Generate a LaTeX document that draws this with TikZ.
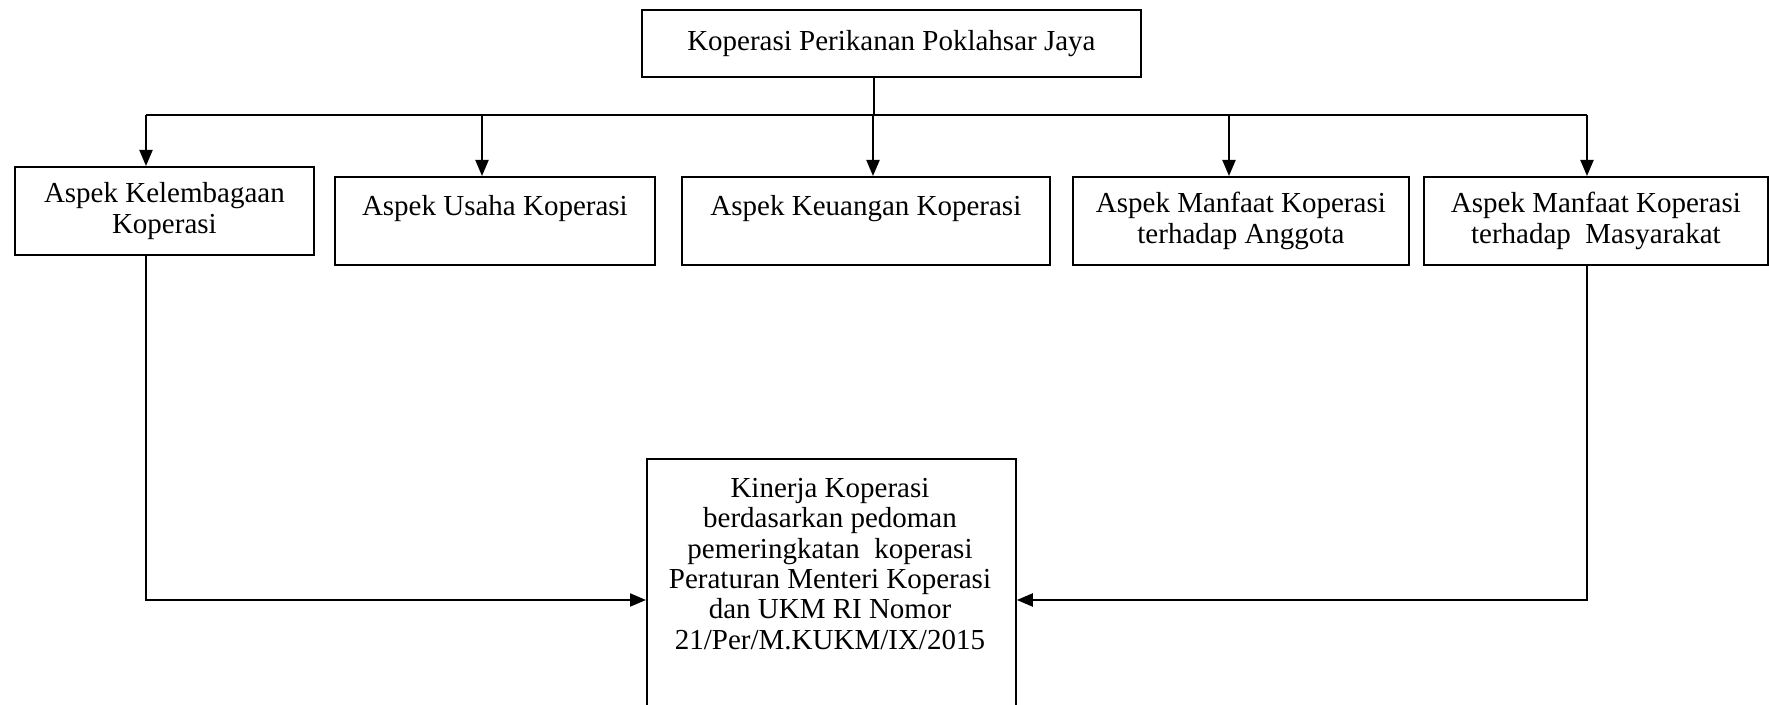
\documentclass[tikz,border=0pt]{standalone}
\usepackage{fontspec}
\setmainfont{Liberation Serif}
\usetikzlibrary{arrows.meta}
\begin{document}
\begin{tikzpicture}[x=0.5pt,y=-0.5pt,
  box/.style={draw=black,line width=0.9pt,rectangle,inner sep=0pt,align=center,
    font=\fontsize{14.5}{15.2}\selectfont},
  txt/.style={inner sep=0pt,align=center,font=\fontsize{14.5}{15.2}\selectfont},
  conn/.style={draw=black,line width=1pt},
  arr/.style={conn,-{Triangle[length=8pt,width=6.5pt]}}]
\clip (0,0) rectangle (1769,705);
\fill[white] (0,0) rectangle (1769,705);
% top box
\node[box,anchor=north west,minimum width=249.5pt,minimum height=33.5pt] (top) at (641,9) {Koperasi Perikanan Poklahsar Jaya};
% aspect boxes
\node[box,anchor=north west,minimum width=149.5pt,minimum height=44pt] (b1) at (14,166) {Aspek Kelembagaan\\Koperasi};
\node[box,anchor=north west,minimum width=160pt,minimum height=44pt] (b2) at (334,176) {Aspek Usaha Koperasi\\\mbox{}};
\node[box,anchor=north west,minimum width=184pt,minimum height=44pt] (b3) at (681,176) {Aspek Keuangan Koperasi\\\mbox{}};
\node[box,anchor=north west,minimum width=168pt,minimum height=44pt] (b4) at (1072,176) {Aspek Manfaat Koperasi\\terhadap Anggota};
\node[box,anchor=north west,minimum width=172pt,minimum height=44pt] (b5) at (1423,176) {Aspek Manfaat Koperasi\\terhadap\ \ Masyarakat};
% bottom box
\node[box,anchor=north west,minimum width=184.5pt,minimum height=142pt] (bot) at (646,458) {};
\node[txt] (bottxt) at (830,564) {Kinerja Koperasi\\berdasarkan pedoman\\pemeringkatan\ \ koperasi\\Peraturan Menteri Koperasi\\dan UKM RI Nomor\\21/Per/M.KUKM/IX/2015};
% tree coordinates
\coordinate (hub) at (874,115);
\coordinate (a1) at (146,115);
\coordinate (a2) at (482,115);
\coordinate (a3) at (873,115);
\coordinate (a4) at (1229,115);
\coordinate (a5) at (1587,115);
\coordinate (jl) at (146,600);
\coordinate (jr) at (1587,600);
\draw[conn] (top.south -| hub) -- (hub);
\draw[conn] (a1) -- (a5);
\draw[arr] (a1) -- (a1 |- b1.north);
\draw[arr] (a2) -- (a2 |- b2.north);
\draw[arr] (a3) -- (a3 |- b3.north);
\draw[arr] (a4) -- (a4 |- b4.north);
\draw[arr] (a5) -- (a5 |- b5.north);
\draw[arr] (a1 |- b1.south) -- (jl) -- (jl -| bot.west);
\draw[arr] (a5 |- b5.south) -- (jr) -- (jr -| bot.east);
\end{tikzpicture}
\end{document}
